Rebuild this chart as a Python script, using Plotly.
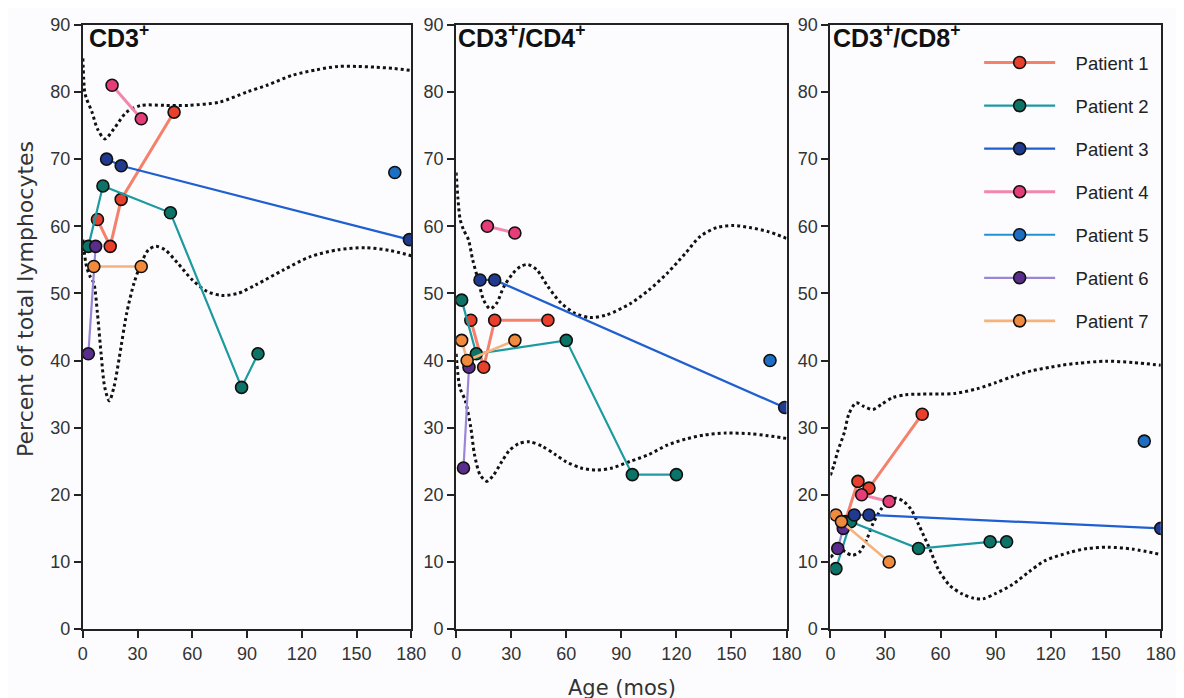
import plotly.graph_objects as go

# Figure size and page->picture mapping measured from earlier renders.
W, H = 1184, 701
SX, BX = 0.985, 12.0     # horizontal mapping
SY, BY = 0.971, 17.2     # vertical mapping

patients = ["Patient 1", "Patient 2", "Patient 3", "Patient 4", "Patient 5", "Patient 6", "Patient 7"]
marker_colors = ["#e8402c", "#0b7466", "#1f3a8f", "#e63c78", "#1c6fc2", "#5a2d8c", "#f08a3c"]
line_colors = ["#f5806c", "#1c9aa0", "#1f5fd0", "#f286ad", "#1e93d6", "#9a86d6", "#f6b27a"]
line_widths = [3, 2.2, 2.2, 3, 2.2, 2.2, 2.6]

# ---- CD3+ panel ----
cd3_x = {
    "Patient 1": [8, 15, 21, 50],
    "Patient 2": [3, 11, 48, 87, 96],
    "Patient 3": [13, 21, 179],
    "Patient 4": [16, 32],
    "Patient 5": [171],
    "Patient 6": [3, 7],
    "Patient 7": [6, 32],
}
cd3_y = {
    "Patient 1": [61, 57, 64, 77],
    "Patient 2": [57, 66, 62, 36, 41],
    "Patient 3": [70, 69, 58],
    "Patient 4": [81, 76],
    "Patient 5": [68],
    "Patient 6": [41, 57],
    "Patient 7": [54, 54],
}
cd3_upper_x = [0, 1, 2, 5, 8, 12, 17, 24, 32, 45, 58, 75, 90, 101, 115, 128, 140, 150, 160, 170, 180]
cd3_upper_y = [85, 80, 79, 77, 74.5, 73, 74.5, 77, 78, 78, 78, 78.5, 80, 81, 82.5, 83.3, 83.8, 83.8, 83.7, 83.5, 83.2]
cd3_lower_x = [0, 2, 4, 6, 8, 10, 12, 14.5, 17, 20, 24, 28, 32, 36, 40, 45, 52, 60, 68, 76, 85, 95, 110, 125, 140, 155, 168, 180]
cd3_lower_y = [58, 54, 52.5, 51.5, 47, 41, 36, 34, 36, 40.5, 47, 51.5, 54.5, 56.5, 57, 56.5, 54.5, 52, 50.3, 49.7, 50, 51.3, 53.5, 55.5, 56.5, 56.8, 56.4, 55.6]

# ---- CD3+/CD4+ panel ----
cd4_x = {
    "Patient 1": [8, 15, 21, 50],
    "Patient 2": [3, 11, 60, 96, 120],
    "Patient 3": [13, 21, 179],
    "Patient 4": [17, 32],
    "Patient 5": [171],
    "Patient 6": [4, 7],
    "Patient 7": [3, 6, 32],
}
cd4_y = {
    "Patient 1": [46, 39, 46, 46],
    "Patient 2": [49, 41, 43, 23, 23],
    "Patient 3": [52, 52, 33],
    "Patient 4": [60, 59],
    "Patient 5": [40],
    "Patient 6": [24, 39],
    "Patient 7": [43, 40, 43],
}
cd4_upper_x = [0, 1, 2.2, 4, 6.7, 9, 12, 15, 18.5, 22, 26, 31, 35, 39, 44, 50, 57, 65, 73, 82, 95, 105, 115, 125, 133, 142, 151, 160, 170, 180]
cd4_upper_y = [68, 64, 61, 59.5, 58, 55, 52, 49, 47.7, 48.5, 51, 53, 54, 54.3, 53.5, 51, 48.6, 47, 46.4, 46.8, 48.5, 50.5, 53, 56, 58.5, 59.8, 60.1, 59.8, 59.2, 58.2]
cd4_lower_x = [0, 2, 5, 8, 10, 13, 16.7, 20, 25, 29, 34, 40, 47, 54, 60, 68, 76.5, 85, 95, 105, 115, 125, 135, 147, 160, 170, 180]
cd4_lower_y = [41, 36, 34, 30, 26, 23, 22, 22.8, 25, 26.6, 27.6, 27.9, 27.2, 26, 24.9, 24, 23.7, 24, 25, 26, 27.4, 28.3, 28.9, 29.2, 29.1, 28.8, 28.4]

# ---- CD3+/CD8+ panel ----
cd8_x = {
    "Patient 1": [8, 15, 21, 50],
    "Patient 2": [3, 11, 48, 87, 96],
    "Patient 3": [13, 21, 180],
    "Patient 4": [17, 32],
    "Patient 5": [171],
    "Patient 6": [4, 7],
    "Patient 7": [3, 6, 32],
}
cd8_y = {
    "Patient 1": [16, 22, 21, 32],
    "Patient 2": [9, 16, 12, 13, 13],
    "Patient 3": [17, 17, 15],
    "Patient 4": [20, 19],
    "Patient 5": [28],
    "Patient 6": [12, 15],
    "Patient 7": [17, 16, 10],
}
cd8_upper_x = [0, 2, 4, 7.6, 10, 14, 18, 23, 28, 34, 41, 50, 60, 68, 80, 90, 99, 110, 120, 126, 135, 150, 165, 180]
cd8_upper_y = [22.9, 24.5, 26.5, 29.3, 32, 33.7, 33.2, 32.7, 33.5, 34.5, 34.9, 35, 35, 35.1, 35.8, 36.7, 37.6, 38.5, 39, 39.3, 39.6, 39.9, 39.7, 39.3]
cd8_lower_x = [0, 2, 5, 8, 12, 16, 20, 23, 28, 33, 36, 40, 44, 48, 54, 59, 65, 72, 78, 83, 90, 99, 108, 117, 130, 140, 151, 165, 180]
cd8_lower_y = [10.7, 11.2, 12.2, 11.5, 11, 11.5, 13.5, 15.6, 18, 19.3, 19.5, 19, 17.8, 15.6, 12, 8.8, 6.5, 5.2, 4.6, 4.5, 5.3, 6.6, 8.5, 10.2, 11.4, 12, 12.2, 11.9, 11.1]

panel_titles = ["<b>CD3<sup>+</sup></b>", "<b>CD3<sup>+</sup>/CD4<sup>+</sup></b>", "<b>CD3<sup>+</sup>/CD8<sup>+</sup></b>"]
x_ticks = [0, 30, 60, 90, 120, 150, 180]
y_ticks = [0, 10, 20, 30, 40, 50, 60, 70, 80, 90]

panels = [
    (cd3_x, cd3_y, cd3_upper_x, cd3_upper_y, cd3_lower_x, cd3_lower_y),
    (cd4_x, cd4_y, cd4_upper_x, cd4_upper_y, cd4_lower_x, cd4_lower_y),
    (cd8_x, cd8_y, cd8_upper_x, cd8_upper_y, cd8_lower_x, cd8_lower_y),
]

# target positions in the picture (reference pixels)
x_px = [(82, 411), (456, 787), (831, 1162)]
y_px = (24, 628)


def fx(px):
    return ((px - BX) / SX) / W


def fy(py):
    return min(1.0, 1 - ((py - BY) / SY) / H)


fig = go.Figure()
FONT = "Liberation Sans, Arial, sans-serif"
TFONT = "DejaVu Sans, Verdana, sans-serif"
NB = "\u00a0\u00a0\u00a0"

for i, (px, py, ux, uy, lx, ly) in enumerate(panels):
    xa = "x" if i == 0 else f"x{i+1}"
    ya = "y" if i == 0 else f"y{i+1}"
    for cx, cy in ((ux, uy), (lx, ly)):
        fig.add_trace(go.Scatter(
            x=cx, y=cy, mode="lines", xaxis=xa, yaxis=ya, showlegend=False,
            line=dict(color="#111111", width=3, dash="dot", shape="spline", smoothing=0.8),
            hoverinfo="skip",
        ))
    for k, p in enumerate(patients):
        fig.add_trace(go.Scatter(
            x=px[p], y=py[p], mode="lines+markers", name=NB + p, xaxis=xa, yaxis=ya,
            legendgroup=p, showlegend=(i == 2),
            line=dict(color=line_colors[k], width=line_widths[k]),
            marker=dict(color=marker_colors[k], size=12, line=dict(color="#111111", width=1.6)),
        ))

layout = dict(
    width=W, height=H,
    margin=dict(l=0, r=0, t=0, b=0),
    paper_bgcolor="#fcfcfe", plot_bgcolor="#fcfcfe",
    font=dict(family=FONT, color="#222222", size=16),
    legend=dict(
        x=fx(980), y=fy(43.2), xanchor="left", yanchor="top",
        bgcolor="rgba(0,0,0,0)", font=dict(size=18.5, color="#222222", family=FONT),
        tracegroupgap=16, itemwidth=71,
    ),
    showlegend=True,
)
for i in range(3):
    xk = "xaxis" if i == 0 else f"xaxis{i+1}"
    yk = "yaxis" if i == 0 else f"yaxis{i+1}"
    x0, x1 = x_px[i]
    common = dict(
        showline=True, mirror=True, linecolor="#222222", linewidth=2,
        ticks="outside", ticklen=7, tickwidth=2, tickcolor="#222222",
        showgrid=False, zeroline=False, ticklabeloverflow="allow",
        tickfont=dict(size=18, color="#333333", family=FONT),
    )
    layout[xk] = dict(domain=[fx(x0), fx(x1)], range=[0, 180], tickvals=x_ticks,
                      anchor="y" if i == 0 else f"y{i+1}", **common)
    layout[yk] = dict(domain=[fy(y_px[1]), fy(y_px[0])], range=[0, 90], tickvals=y_ticks,
                      anchor="x" if i == 0 else f"x{i+1}", **common)
fig.update_layout(**layout)

title_x = [86, 456, 832]
for i in range(3):
    fig.add_annotation(
        text=panel_titles[i], xref="paper", yref="paper",
        x=fx(title_x[i]), y=1.0, xanchor="left", yanchor="top",
        showarrow=False, font=dict(size=25, color="#111111", family=FONT),
    )

fig.add_annotation(
    text="Percent of total lymphocytes", xref="paper", yref="paper",
    x=fx(25), y=fy(298), xanchor="center", yanchor="middle", textangle=-90, showarrow=False,
    font=dict(size=22, color="#333333", family=TFONT),
)
fig.add_annotation(
    text="Age (mos)", xref="paper", yref="paper",
    x=fx(622), y=fy(687), xanchor="center", yanchor="middle", showarrow=False,
    font=dict(size=21, color="#333333", family=TFONT),
)

fig.write_html("out.html")
